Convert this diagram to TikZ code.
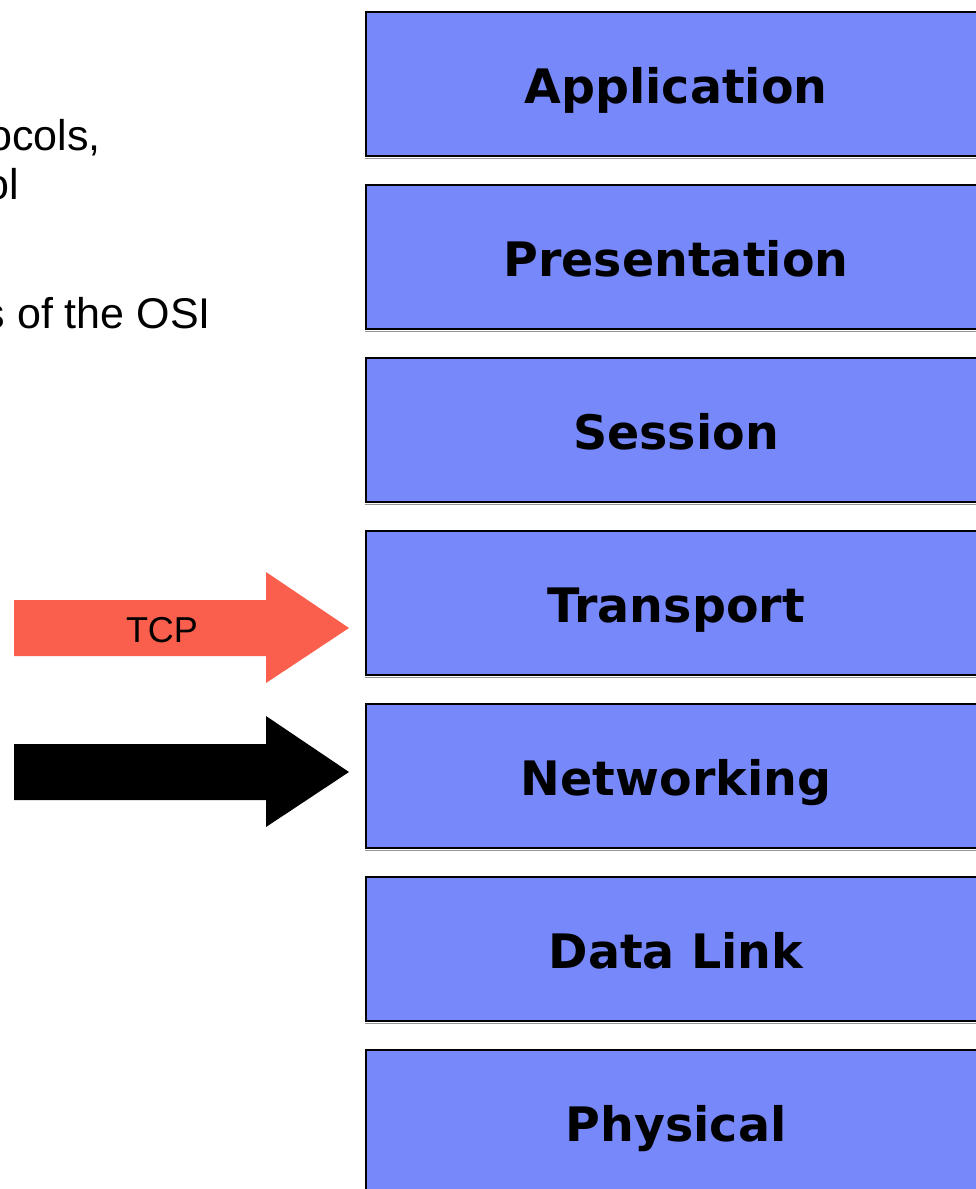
\documentclass[tikz,border=0pt]{standalone}
\usepackage{fontspec}
\setmainfont{Liberation Sans}
\newfontfamily\layerfont{DejaVu Sans}
\definecolor{layerblue}{RGB}{119,136,250}
\definecolor{tcpred}{RGB}{250,94,77}
\definecolor{edgeshade}{RGB}{150,150,150}
\begin{document}
\begin{tikzpicture}[x=1pt,y=-1pt,
  layer/.style={rectangle, draw=black, line width=2pt, fill=layerblue,
    minimum width=620pt, minimum height=144pt, inner sep=0pt,
    text height=39pt, text depth=0pt,
    font=\layerfont\bfseries\fontsize{47.5}{58}\selectfont},
  shade line/.style={draw=edgeshade, line width=1pt},
  bodytext/.style={anchor=base east, inner sep=0pt,
    font=\fontsize{43}{52}\selectfont},
  arrowlabel/.style={anchor=base, inner sep=0pt,
    font=\fontsize{36}{43}\selectfont}]
\useasboundingbox (0,0) rectangle (975,1189);

% OSI layer stack
\foreach \name/\txt [count=\i from 0] in {application/Application,
    presentation/Presentation, session/Session, transport/Transport,
    networking/Networking, datalink/Data Link, physical/Physical}{
  \node[layer] (\name) at (676,{84+173*\i}) {\txt};
  \draw[shade line] ([yshift=-1.5pt]\name.south west) -- ([yshift=-1.5pt]\name.south east);
}

% Body text lines
\node[bodytext] (line1) at (101,150) {ocols,};
\node[bodytext] (line2) at (19,199) {ol};
\node[bodytext] (line3) at (211,328) {s of the OSI};

% Block arrows pointing at the layers
\coordinate (tcptip) at (349,628);
\coordinate (nettip) at (349,772);
\fill[tcpred] (14,600) -- (266,600) -- (266,572) -- (tcptip)
  -- (266,683) -- (266,656) -- (14,656) -- cycle;
\fill[black] (14,744) -- (266,744) -- (266,716) -- (nettip)
  -- (266,827) -- (266,800) -- (14,800) -- cycle;
\node[arrowlabel] (tcplabel) at (162,642) {TCP};
\end{tikzpicture}
\end{document}
